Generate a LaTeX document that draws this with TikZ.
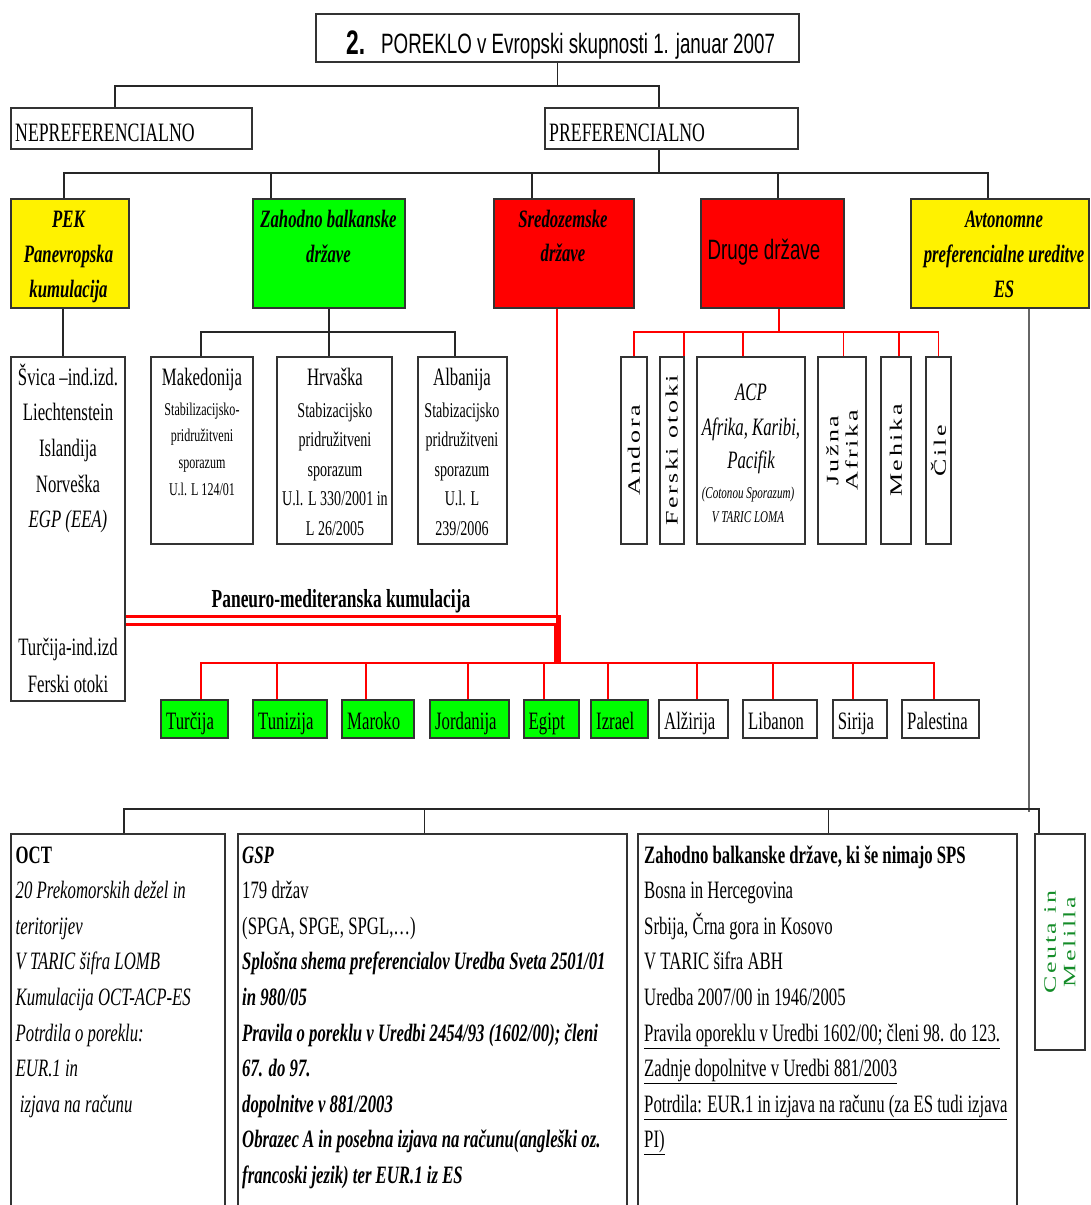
\documentclass[tikz,border=0pt]{standalone}
\usepackage{fontspec}
\setmainfont{Liberation Serif}[FakeStretch=0.67]
\setsansfont{Liberation Sans}[FakeStretch=0.67]
\newfontfamily\vfont{Liberation Serif}[LetterSpace=10]
\usetikzlibrary{fit}
\newcommand\fsz[1]{\fontsize{#1}{#1}\selectfont}
\definecolor{ceutagreen}{RGB}{20,140,40}

\begin{document}
\begin{tikzpicture}[x=1pt,y=-1pt,
  box/.style={draw=black!80,line width=2pt,inner sep=0pt},
  ln/.style={black!85,line width=1.3pt},
  rl/.style={red,line width=1.6pt},
  pl/.style={red,line width=3pt},
  gl/.style={black!60,line width=2.2pt},
  tx/.style={inner sep=0pt,anchor=base},
  vt/.style={inner sep=0pt,rotate=90,yscale=0.67,align=center,font=\vfont\fontsize{26}{29}\selectfont}]
\clip (0,0) rectangle (1091,1205);
\fill[white] (0,0) rectangle (1091,1205);

\node[box,line width=2.5pt,fit={(316,14) (799,62)}] (title) {};
\node[tx,anchor=base west,font=\sffamily\bfseries\fsz{34}] (tnum) at (346,54) {2.};
\node[tx,anchor=base west,font=\sffamily\fsz{28}] (ttext) at (381,53) {POREKLO v Evropski skupnosti 1. januar 2007};

\node[box,fit={(11,108) (252,149)}] (nepref) {};
\node[tx,anchor=base west,font=\fsz{26.5}] (nepref-t) at (15,141) {NEPREFERENCIALNO};
\node[box,fit={(545,108) (798,149)}] (pref) {};
\node[tx,anchor=base west,font=\fsz{26.5}] (pref-t) at (549,141) {PREFERENCIALNO};

\coordinate (j1) at (0,86);
\draw[ln] (title.south) -- (title.south|-j1);
\draw[ln] ([xshift=-16.5pt]nepref.north) |- ([xshift=-12.5pt]pref.north|-j1) -- ([xshift=-12.5pt]pref.north);

\node[box,fill=yellow,fit={(11,199) (129,308)}] (pek) {};
\node[box,fill=green,fit={(253,199) (405,308)}] (zbd) {};
\node[box,fill=red,fit={(494,199) (634,308)}] (sred) {};
\node[box,fill=red,fit={(701,199) (844,308)}] (druge) {};
\node[box,fill=yellow,fit={(911,199) (1089,308)}] (avt) {};

\coordinate (j2) at (0,173);
\draw[ln] ([xshift=-12.5pt]pref.south) -- ([xshift=-12.5pt]pref.south|-j2);
\draw[ln] ([xshift=-6pt]pek.north) |- ([xshift=-12pt]avt.north|-j2) -- ([xshift=-12pt]avt.north);
\foreach \n/\d in {zbd/-58,sred/-32,druge/5.5}
  \draw[ln] ([xshift=\d pt]\n.north) -- ([xshift=\d pt]\n.north|-j2);

\foreach \s [count=\i from 0] in {PEK,Panevropska,kumulacija}
  \node[tx,font=\bfseries\itshape\fsz{25}] (pek-\i) at (68.5,{227+35*\i}) {\s};
\foreach \s [count=\i from 0] in {Zahodno balkanske,države}
  \node[tx,font=\bfseries\itshape\fsz{25}] (zbd-\i) at (328.5,{227+35*\i}) {\s};
\foreach \s [count=\i from 0] in {Sredozemske,države}
  \node[tx,font=\bfseries\itshape\fsz{25}] (sred-\i) at (563,{227+34*\i}) {\s};
\node[tx,font=\sffamily\fsz{28}] (druge-t) at (764,259) {Druge države};
\foreach \s [count=\i from 0] in {Avtonomne,preferencialne ureditve,ES}
  \node[tx,font=\bfseries\itshape\fsz{25}] (avt-\i) at (1004,{227+35*\i}) {\s};

\node[box,fit={(11,357) (125,701)}] (svica) {};
\node[box,fit={(151,357) (253,544)}] (maked) {};
\node[box,fit={(277,357) (392,544)}] (hrv) {};
\node[box,fit={(418,357) (507,544)}] (alb) {};

\draw[ln] ([xshift=-7pt]pek.south) -- ([xshift=-7pt]pek.south|-svica.north);
\coordinate (j3) at (0,332);
\draw[ln] (zbd.south) -- (zbd.south|-j3);
\draw[ln] ([xshift=-1pt]maked.north) |- ([xshift=-7.5pt]alb.north|-j3) -- ([xshift=-7.5pt]alb.north);
\draw[ln] (zbd.south|-j3) -- (zbd.south|-hrv.north);

\foreach \s [count=\i from 0] in {Švica –ind.izd.,Liechtenstein,Islandija,Norveška,\itshape EGP (EEA)}
  \node[tx,font=\fsz{25}] (svica-\i) at (68,{385+35.7*\i}) {\s};
\node[tx,font=\fsz{25}] (svica-5) at (68,655) {Turčija-ind.izd};
\node[tx,font=\fsz{25}] (svica-6) at (68,692) {Ferski otoki};

\node[tx,font=\fsz{25}] (maked-t) at (202,385) {Makedonija};
\foreach \s [count=\i from 0] in {Stabilizacijsko-,pridružitveni,sporazum,U.l. L 124/01}
  \node[tx,font=\fsz{18}] (maked-\i) at (202,{415+26.7*\i}) {\s};
\node[tx,font=\fsz{25}] (hrv-t) at (335,385) {Hrvaška};
\foreach \s [count=\i from 0] in {Stabizacijsko,pridružitveni,sporazum,U.l. L 330/2001 in,L 26/2005}
  \node[tx,font=\fsz{21}] (hrv-\i) at (335,{417+29.5*\i}) {\s};
\node[tx,font=\fsz{25}] (alb-t) at (462,385) {Albanija};
\foreach \s [count=\i from 0] in {Stabizacijsko,pridružitveni,sporazum,U.l. L,239/2006}
  \node[tx,font=\fsz{21}] (alb-\i) at (462,{417+29.5*\i}) {\s};

\node[box,fit={(621,357) (647,544)}] (andora) {};
\node[box,fit={(659.5,357) (684,544)}] (ferski) {};
\node[box,fit={(697,357) (805,544)}] (acp) {};
\node[box,fit={(818,357) (866,544)}] (juzna) {};
\node[box,fit={(881,357) (911,544)}] (mehika) {};
\node[box,fit={(926,357) (951,544)}] (cile) {};

\draw[rl] ([xshift=6.5pt]druge.south) -- ([xshift=6.5pt]druge.south|-j3);
\draw[rl] (andora.north) |- (cile.north|-j3) -- (cile.north);
\foreach \n/\d in {ferski/12.25,acp/-8,juzna/1.4,mehika/3}
  \draw[rl] ([xshift=\d pt]\n.north) -- ([xshift=\d pt]\n.north|-j3);

\node[vt] (andora-t) at (andora) {Andora};
\node[vt] (ferski-t) at (ferski) {Ferski otoki};
\node[vt] (juzna-t) at (juzna) {Južna\\Afrika};
\node[vt] (mehika-t) at (mehika) {Mehika};
\node[vt] (cile-t) at (cile) {Čile};
\node[tx,font=\itshape\fsz{25}] (acp-0) at (751,400) {ACP};
\node[tx,font=\itshape\fsz{25}] (acp-1) at (751,435) {Afrika, Karibi,};
\node[tx,font=\itshape\fsz{25}] (acp-2) at (751,468) {Pacifik};
\node[tx,font=\itshape\fsz{16.5}] (acp-3) at (748,498) {(Cotonou Sporazum)};
\node[tx,font=\itshape\fsz{16.5}] (acp-4) at (748,522) {V TARIC LOMA};

\coordinate (j4) at (0,663);
\coordinate (pm1) at (0,616);
\coordinate (pm2) at (0,624);
\draw[rl] ([xshift=-7pt]sred.south) -- ([xshift=-7pt]sred.south|-j4);
\draw[pl] (svica.east|-pm1) -| ([xshift=-4.5pt]sred.south|-j4);
\draw[pl] (svica.east|-pm2) -| ([xshift=-9pt]sred.south|-j4);
\node[tx,font=\bfseries\fsz{26}] (pmk) at (341,607) {Paneuro-mediteranska kumulacija};

\foreach \n/\a/\b/\c/\d/\t in {tur/161/228/green/6.5/Turčija,tun/253/327/green/-13/Tunizija,
    mar/342/414/green/-12/Maroko,jor/430/508.5/green/-1/Jordanija,egi/523.5/579/green/-7/Egipt,
    izr/591/648/green/-11.5/Izrael,alz/659/728/white/3.5/Alžirija,lib/743/816.6/white/-7/Libanon,
    sir/832.6/887/white/-7/Sirija,pal/902/978.5/white/-6/Palestina}{
  \node[box,fill=\c,fit={(\a,700) (\b,738)}] (\n) {};
  \node[tx,anchor=base west,font=\fsz{25}] (\n-t) at (\a+5,729) {\t};
  \draw[rl] ([xshift=\d pt]\n.north) -- ++(0,-37);
}
\draw[rl] ([xshift=6.5pt]tur.north|-j4) -- ([xshift=-6pt]pal.north|-j4);

\node[box,fit={(11,834) (224.5,1215)}] (oct) {};
\node[box,fit={(237.5,834) (626.5,1215)}] (gsp) {};
\node[box,fit={(638,834) (1017,1215)}] (zbb) {};
\node[box,fit={(1035,834) (1085,1050)}] (ceuta) {};

\coordinate (j5) at (0,809);
\draw[gl] ([xshift=29pt]avt.south) -- ([xshift=29pt]avt.south|-j5) -- ++(0,3);
\draw[ln] ([xshift=6.25pt]oct.north) |- ([xshift=-21pt]ceuta.north|-j5) -- ([xshift=-21pt]ceuta.north);
\foreach \n/\d in {gsp/-7.5,zbb/1.2}
  \draw[ln] ([xshift=\d pt]\n.north) -- ([xshift=\d pt]\n.north|-j5);

\node[vt,text=ceutagreen] (ceuta-t) at (ceuta) {Ceuta in\\Melilla};

\foreach \s [count=\i from 0] in {{\bfseries OCT},{\itshape 20 Prekomorskih dežel in},{\itshape teritorijev},
    {\itshape V TARIC šifra LOMB},{\itshape Kumulacija OCT-ACP-ES},{\itshape Potrdila o poreklu:},
    {\itshape EUR.1 in},{\itshape\ izjava na računu}}
  \node[tx,anchor=base west,font=\fsz{25}] (oct-\i) at (15.5,{863+35.6*\i}) {\s};
\foreach \s [count=\i from 0] in {{\bfseries\itshape GSP},{179 držav},{(SPGA, SPGE, SPGL,…)},
    {\bfseries\itshape Splošna shema preferencialov Uredba Sveta 2501/01},{\bfseries\itshape in 980/05},
    {\bfseries\itshape Pravila o poreklu v Uredbi 2454/93 (1602/00); členi},{\bfseries\itshape 67. do 97.},
    {\bfseries\itshape dopolnitve v 881/2003},{\bfseries\itshape Obrazec A in posebna izjava na računu(angleški oz.},
    {\bfseries\itshape francoski jezik) ter EUR.1 iz ES}}
  \node[tx,anchor=base west,font=\fsz{25}] (gsp-\i) at (242,{863+35.6*\i}) {\s};
\foreach \s [count=\i from 0] in {{\bfseries Zahodno balkanske države, ki še nimajo SPS},{Bosna in Hercegovina},
    {Srbija, Črna gora in Kosovo},{V TARIC šifra ABH},{Uredba 2007/00 in 1946/2005},
    {\underline{Pravila oporeklu v Uredbi 1602/00; členi 98. do 123.}},{\underline{Zadnje dopolnitve v Uredbi 881/2003}},
    {\underline{Potrdila: EUR.1 in izjava na računu (za ES tudi izjava}},{\underline{PI)}}}
  \node[tx,anchor=base west,font=\fsz{25}] (zbb-\i) at (644,{863+35.6*\i}) {\s};
\end{tikzpicture}
\end{document}
